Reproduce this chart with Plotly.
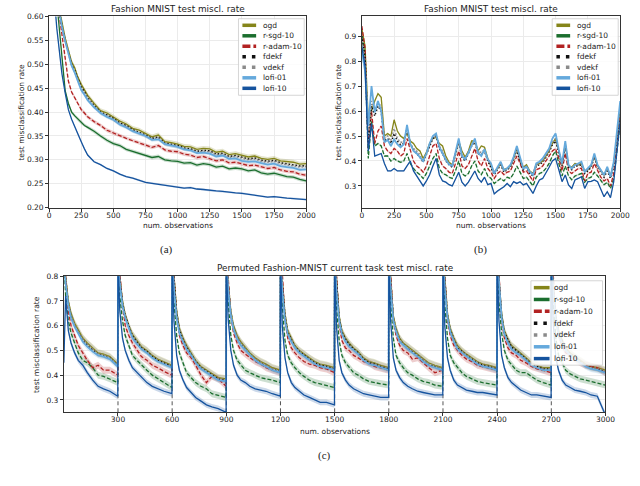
import plotly.graph_objects as go

W, H = 640, 486

names = ['ogd', 'r-sgd-10', 'r-adam-10', 'fdekf', 'vdekf', 'lofi-01', 'lofi-10']

# ---------------- (a) Fashion MNIST, steady state ----------------
a_x = [0, 20, 40, 60, 80, 100, 125, 150, 175, 200, 225, 250, 275, 300] + list(range(350, 2001, 50))
a_ogd = [0.90, 0.80, 0.72, 0.66, 0.615, 0.585, 0.555, 0.53, 0.505, 0.492, 0.472, 0.458, 0.447, 0.435,
         0.418, 0.403, 0.398, 0.390, 0.381, 0.375, 0.366, 0.362, 0.355, 0.348, 0.352, 0.338, 0.336, 0.333,
         0.328, 0.327, 0.322, 0.324, 0.323, 0.316, 0.318, 0.311, 0.313, 0.309, 0.306, 0.308, 0.303, 0.301,
         0.303, 0.298, 0.296, 0.295, 0.291, 0.292]
a_rsgd = [0.87, 0.75, 0.67, 0.63, 0.575, 0.51, 0.445, 0.418, 0.40, 0.392, 0.385, 0.378, 0.372, 0.368,
          0.36, 0.35, 0.341, 0.334, 0.33, 0.322, 0.318, 0.314, 0.31, 0.305, 0.307, 0.30, 0.298, 0.297,
          0.293, 0.294, 0.289, 0.292, 0.29, 0.285, 0.287, 0.281, 0.283, 0.281, 0.277, 0.279, 0.273, 0.27,
          0.272, 0.268, 0.265, 0.264, 0.259, 0.256]
a_radam = [0.88, 0.76, 0.69, 0.64, 0.60, 0.555, 0.505, 0.465, 0.442, 0.43, 0.418, 0.405, 0.398, 0.39,
           0.38, 0.372, 0.362, 0.356, 0.35, 0.345, 0.34, 0.336, 0.331, 0.326, 0.33, 0.321, 0.318, 0.317,
           0.312, 0.31, 0.305, 0.307, 0.303, 0.298, 0.30, 0.294, 0.295, 0.291, 0.288, 0.289, 0.285, 0.282,
           0.284, 0.279, 0.276, 0.275, 0.27, 0.268]
a_fdekf = [0.90, 0.80, 0.715, 0.655, 0.612, 0.58, 0.55, 0.525, 0.50, 0.487, 0.468, 0.453, 0.443, 0.43,
           0.414, 0.40, 0.394, 0.387, 0.377, 0.372, 0.363, 0.358, 0.352, 0.345, 0.348, 0.335, 0.333, 0.33,
           0.325, 0.323, 0.318, 0.32, 0.319, 0.312, 0.314, 0.307, 0.309, 0.305, 0.302, 0.304, 0.299, 0.297,
           0.299, 0.294, 0.292, 0.29, 0.287, 0.288]
a_vdekf = [0.90, 0.80, 0.712, 0.652, 0.61, 0.578, 0.548, 0.522, 0.498, 0.484, 0.465, 0.45, 0.44, 0.428,
           0.412, 0.398, 0.392, 0.384, 0.375, 0.37, 0.361, 0.356, 0.35, 0.343, 0.346, 0.333, 0.331, 0.328,
           0.323, 0.321, 0.316, 0.318, 0.317, 0.31, 0.312, 0.305, 0.307, 0.303, 0.30, 0.302, 0.297, 0.295,
           0.297, 0.292, 0.29, 0.288, 0.285, 0.286]
a_lofi01 = [0.89, 0.79, 0.71, 0.65, 0.61, 0.578, 0.548, 0.52, 0.497, 0.482, 0.462, 0.446, 0.436, 0.425,
            0.41, 0.398, 0.39, 0.384, 0.374, 0.368, 0.36, 0.355, 0.35, 0.342, 0.343, 0.333, 0.33, 0.327,
            0.322, 0.32, 0.314, 0.315, 0.313, 0.307, 0.309, 0.302, 0.303, 0.298, 0.296, 0.297, 0.293, 0.29,
            0.292, 0.287, 0.285, 0.283, 0.279, 0.28]
a_lofi10 = [0.85, 0.73, 0.64, 0.575, 0.52, 0.48, 0.44, 0.405, 0.385, 0.368, 0.352, 0.338, 0.323, 0.31,
            0.296, 0.29, 0.282, 0.277, 0.27, 0.265, 0.262, 0.257, 0.253, 0.251, 0.249, 0.246, 0.245, 0.243,
            0.241, 0.242, 0.239, 0.238, 0.236, 0.235, 0.234, 0.232, 0.231, 0.23, 0.228, 0.227, 0.224, 0.222,
            0.223, 0.221, 0.22, 0.219, 0.218, 0.217]
a_band = [0.005, 0.004, 0.004, 0.0, 0.004, 0.004, 0.002]
a_xticks = [0, 250, 500, 750, 1000, 1250, 1500, 1750, 2000]
a_yticks = [0.20, 0.25, 0.30, 0.35, 0.40, 0.45, 0.50, 0.55, 0.60]

# ---------------- (b) Fashion MNIST, non-stationary ----------------
b_x = list(range(0, 2001, 25))
b_ogd = [0.93, 0.86, 0.56, 0.60, 0.64, 0.67, 0.655, 0.50, 0.51, 0.50,
         0.565, 0.52, 0.50, 0.49, 0.51, 0.48, 0.47, 0.45, 0.44, 0.41,
         0.435, 0.47, 0.49, 0.495, 0.47, 0.46, 0.42, 0.395, 0.385, 0.43,
         0.48, 0.44, 0.415, 0.44, 0.48, 0.48, 0.44, 0.46, 0.455, 0.41,
         0.38, 0.355, 0.37, 0.39, 0.365, 0.37, 0.38, 0.41, 0.45, 0.405,
         0.375, 0.385, 0.36, 0.35, 0.385, 0.39, 0.40, 0.42, 0.44, 0.47,
         0.49, 0.44, 0.385, 0.47, 0.38, 0.375, 0.39, 0.385, 0.39, 0.36,
         0.365, 0.38, 0.42, 0.38, 0.36, 0.345, 0.37, 0.34, 0.39, 0.50,
         0.60]
b_rsgd = [0.90, 0.82, 0.41, 0.56, 0.46, 0.47, 0.46, 0.42, 0.42, 0.40,
          0.41, 0.40, 0.395, 0.40, 0.43, 0.39, 0.37, 0.355, 0.345, 0.33,
          0.35, 0.38, 0.41, 0.43, 0.37, 0.35, 0.345, 0.335, 0.33, 0.36,
          0.40, 0.35, 0.34, 0.35, 0.38, 0.40, 0.36, 0.345, 0.37, 0.34,
          0.33, 0.31, 0.32, 0.33, 0.32, 0.335, 0.33, 0.35, 0.38, 0.355,
          0.33, 0.335, 0.315, 0.30, 0.335, 0.35, 0.355, 0.37, 0.39, 0.42,
          0.44, 0.39, 0.34, 0.38, 0.34, 0.325, 0.34, 0.345, 0.35, 0.315,
          0.33, 0.335, 0.355, 0.34, 0.32, 0.305, 0.315, 0.29, 0.33, 0.44,
          0.55]
b_radam = [0.94, 0.85, 0.45, 0.60, 0.47, 0.52, 0.54, 0.46, 0.44, 0.43,
           0.45, 0.44, 0.42, 0.43, 0.49, 0.44, 0.40, 0.38, 0.37, 0.355,
           0.38, 0.42, 0.46, 0.47, 0.41, 0.38, 0.37, 0.355, 0.35, 0.39,
           0.44, 0.38, 0.37, 0.385, 0.42, 0.45, 0.40, 0.38, 0.41, 0.37,
           0.355, 0.33, 0.35, 0.36, 0.345, 0.355, 0.36, 0.39, 0.42, 0.39,
           0.355, 0.36, 0.34, 0.32, 0.365, 0.37, 0.38, 0.40, 0.42, 0.44,
           0.45, 0.41, 0.36, 0.43, 0.36, 0.35, 0.36, 0.37, 0.37, 0.32,
           0.35, 0.355, 0.39, 0.36, 0.335, 0.32, 0.33, 0.30, 0.35, 0.46,
           0.58]
b_fdekf = [0.90, 0.82, 0.47, 0.62, 0.58, 0.62, 0.60, 0.48, 0.49, 0.47,
           0.51, 0.48, 0.465, 0.47, 0.53, 0.465, 0.445, 0.43, 0.415, 0.395,
           0.425, 0.46, 0.49, 0.50, 0.45, 0.43, 0.40, 0.385, 0.375, 0.425,
           0.475, 0.415, 0.40, 0.43, 0.46, 0.475, 0.43, 0.425, 0.44, 0.40,
           0.375, 0.345, 0.365, 0.385, 0.355, 0.365, 0.375, 0.405, 0.445, 0.40,
           0.365, 0.375, 0.35, 0.34, 0.38, 0.385, 0.395, 0.415, 0.435, 0.465,
           0.48, 0.43, 0.38, 0.46, 0.375, 0.365, 0.38, 0.38, 0.385, 0.35,
           0.36, 0.375, 0.415, 0.375, 0.355, 0.335, 0.36, 0.33, 0.38, 0.49,
           0.59]
b_vdekf = [0.88, 0.80, 0.50, 0.64, 0.60, 0.63, 0.62, 0.49, 0.50, 0.48,
           0.53, 0.49, 0.475, 0.475, 0.53, 0.47, 0.45, 0.44, 0.425, 0.40,
           0.43, 0.465, 0.49, 0.50, 0.46, 0.44, 0.41, 0.39, 0.38, 0.43,
           0.48, 0.425, 0.41, 0.435, 0.465, 0.48, 0.435, 0.435, 0.445, 0.405,
           0.38, 0.35, 0.37, 0.39, 0.36, 0.37, 0.38, 0.41, 0.45, 0.405,
           0.37, 0.38, 0.355, 0.345, 0.385, 0.39, 0.40, 0.42, 0.44, 0.475,
           0.49, 0.44, 0.385, 0.47, 0.38, 0.37, 0.385, 0.385, 0.39, 0.355,
           0.365, 0.38, 0.42, 0.38, 0.36, 0.34, 0.37, 0.335, 0.39, 0.50,
           0.61]
b_lofi01 = [0.84, 0.76, 0.54, 0.70, 0.595, 0.64, 0.60, 0.475, 0.485, 0.46,
            0.486, 0.467, 0.455, 0.467, 0.545, 0.47, 0.44, 0.43, 0.415, 0.40,
            0.43, 0.47, 0.50, 0.51, 0.455, 0.43, 0.405, 0.387, 0.38, 0.435,
            0.49, 0.42, 0.407, 0.433, 0.46, 0.49, 0.433, 0.42, 0.447, 0.407,
            0.39, 0.35, 0.375, 0.397, 0.364, 0.37, 0.384, 0.417, 0.46, 0.412,
            0.37, 0.377, 0.357, 0.344, 0.39, 0.397, 0.41, 0.43, 0.45, 0.49,
            0.51, 0.444, 0.39, 0.48, 0.384, 0.37, 0.384, 0.39, 0.397, 0.357,
            0.37, 0.384, 0.43, 0.384, 0.364, 0.344, 0.377, 0.337, 0.397, 0.52,
            0.64]
b_lofi10 = [0.86, 0.78, 0.44, 0.55, 0.42, 0.425, 0.43, 0.39, 0.36, 0.36,
            0.37, 0.36, 0.36, 0.36, 0.38, 0.40, 0.36, 0.34, 0.32, 0.30,
            0.32, 0.345, 0.38, 0.41, 0.345, 0.32, 0.315, 0.305, 0.30, 0.33,
            0.355, 0.315, 0.30, 0.315, 0.34, 0.36, 0.33, 0.315, 0.335, 0.305,
            0.31, 0.268, 0.28, 0.288, 0.297, 0.31, 0.297, 0.317, 0.31, 0.317,
            0.304, 0.31, 0.29, 0.27, 0.30, 0.324, 0.33, 0.35, 0.375, 0.40,
            0.41, 0.365, 0.317, 0.344, 0.304, 0.29, 0.324, 0.33, 0.337, 0.29,
            0.317, 0.318, 0.324, 0.317, 0.284, 0.257, 0.277, 0.253, 0.317, 0.45,
            0.56]
b_band = [0.004, 0.004, 0.004, 0.0, 0.004, 0.006, 0.003]
b_yticks = [0.3, 0.4, 0.5, 0.6, 0.7, 0.8, 0.9]

# ---------------- (c) Permuted Fashion-MNIST, 10 tasks of 300 ----------------
c_task_len = 300
c_off = [0, 10, 25, 40, 60, 80, 105, 130, 160, 190, 220, 255, 299]
c_ogd = [
    [0.90, 0.80, 0.70, 0.65, 0.61, 0.585, 0.55, 0.53, 0.51, 0.49, 0.485, 0.475, 0.445],
    [0.90, 0.80, 0.70, 0.645, 0.60, 0.565, 0.54, 0.515, 0.50, 0.48, 0.465, 0.455, 0.44],
    [0.90, 0.79, 0.66, 0.59, 0.55, 0.52, 0.49, 0.46, 0.435, 0.42, 0.405, 0.39, 0.385],
    [0.90, 0.78, 0.66, 0.60, 0.56, 0.535, 0.51, 0.49, 0.47, 0.455, 0.445, 0.43, 0.42],
    [0.90, 0.78, 0.65, 0.58, 0.55, 0.52, 0.50, 0.485, 0.47, 0.455, 0.445, 0.44, 0.43],
    [0.90, 0.78, 0.64, 0.58, 0.55, 0.53, 0.51, 0.495, 0.47, 0.455, 0.45, 0.44, 0.43],
    [0.90, 0.78, 0.64, 0.59, 0.55, 0.53, 0.515, 0.50, 0.485, 0.465, 0.45, 0.44, 0.43],
    [0.90, 0.79, 0.65, 0.59, 0.55, 0.52, 0.50, 0.485, 0.47, 0.455, 0.445, 0.44, 0.43],
    [0.90, 0.79, 0.65, 0.58, 0.545, 0.52, 0.505, 0.49, 0.47, 0.45, 0.44, 0.43, 0.43],
    [0.90, 0.78, 0.64, 0.58, 0.54, 0.51, 0.49, 0.475, 0.46, 0.445, 0.435, 0.43, 0.42],
]
c_rsgd = [
    [0.88, 0.72, 0.62, 0.57, 0.53, 0.49, 0.46, 0.45, 0.43, 0.40, 0.395, 0.385, 0.37],
    [0.88, 0.72, 0.62, 0.56, 0.52, 0.48, 0.46, 0.44, 0.42, 0.40, 0.385, 0.37, 0.35],
    [0.88, 0.70, 0.56, 0.49, 0.45, 0.41, 0.39, 0.37, 0.355, 0.345, 0.325, 0.318, 0.31],
    [0.88, 0.70, 0.56, 0.50, 0.46, 0.44, 0.42, 0.41, 0.40, 0.39, 0.385, 0.38, 0.37],
    [0.88, 0.68, 0.54, 0.48, 0.45, 0.43, 0.41, 0.395, 0.38, 0.37, 0.365, 0.36, 0.35],
    [0.88, 0.68, 0.54, 0.48, 0.45, 0.43, 0.41, 0.40, 0.385, 0.375, 0.37, 0.365, 0.36],
    [0.88, 0.70, 0.55, 0.48, 0.45, 0.43, 0.41, 0.40, 0.385, 0.375, 0.37, 0.36, 0.355],
    [0.88, 0.69, 0.55, 0.48, 0.45, 0.43, 0.41, 0.395, 0.385, 0.375, 0.37, 0.365, 0.36],
    [0.88, 0.70, 0.57, 0.50, 0.46, 0.44, 0.42, 0.41, 0.41, 0.395, 0.38, 0.37, 0.36],
    [0.88, 0.69, 0.55, 0.48, 0.45, 0.42, 0.405, 0.395, 0.385, 0.38, 0.375, 0.37, 0.36],
]
c_radam = [
    [0.95, 0.80, 0.66, 0.60, 0.56, 0.52, 0.49, 0.46, 0.43, 0.44, 0.42, 0.42, 0.40],
    [0.95, 0.82, 0.68, 0.60, 0.56, 0.53, 0.50, 0.475, 0.46, 0.44, 0.43, 0.415, 0.40],
    [0.95, 0.80, 0.64, 0.56, 0.52, 0.49, 0.47, 0.44, 0.40, 0.37, 0.395, 0.385, 0.355],
    [0.95, 0.80, 0.64, 0.57, 0.53, 0.50, 0.485, 0.47, 0.455, 0.445, 0.43, 0.42, 0.41],
    [0.95, 0.80, 0.62, 0.55, 0.51, 0.49, 0.47, 0.455, 0.445, 0.44, 0.43, 0.425, 0.41],
    [0.95, 0.80, 0.61, 0.54, 0.51, 0.50, 0.48, 0.47, 0.455, 0.45, 0.435, 0.43, 0.42],
    [0.95, 0.80, 0.62, 0.56, 0.52, 0.50, 0.49, 0.465, 0.47, 0.45, 0.43, 0.41, 0.42],
    [0.95, 0.80, 0.62, 0.56, 0.52, 0.50, 0.48, 0.465, 0.455, 0.44, 0.435, 0.43, 0.42],
    [0.95, 0.80, 0.62, 0.55, 0.51, 0.49, 0.48, 0.46, 0.45, 0.435, 0.425, 0.42, 0.41],
    [0.95, 0.80, 0.62, 0.56, 0.52, 0.49, 0.48, 0.465, 0.45, 0.44, 0.435, 0.43, 0.41],
]
c_fdekf = [
    [0.89, 0.79, 0.69, 0.64, 0.60, 0.578, 0.543, 0.522, 0.503, 0.485, 0.478, 0.47, 0.44],
    [0.89, 0.79, 0.69, 0.64, 0.595, 0.558, 0.533, 0.51, 0.495, 0.475, 0.46, 0.45, 0.435],
    [0.89, 0.78, 0.65, 0.583, 0.543, 0.513, 0.485, 0.455, 0.43, 0.415, 0.40, 0.385, 0.38],
    [0.89, 0.77, 0.65, 0.593, 0.553, 0.528, 0.505, 0.485, 0.465, 0.45, 0.44, 0.425, 0.415],
    [0.89, 0.77, 0.64, 0.573, 0.545, 0.515, 0.495, 0.48, 0.465, 0.45, 0.44, 0.435, 0.425],
    [0.89, 0.77, 0.63, 0.573, 0.545, 0.525, 0.505, 0.49, 0.465, 0.45, 0.445, 0.435, 0.425],
    [0.89, 0.77, 0.63, 0.583, 0.545, 0.525, 0.51, 0.495, 0.48, 0.46, 0.445, 0.435, 0.425],
    [0.89, 0.78, 0.64, 0.583, 0.545, 0.513, 0.495, 0.48, 0.465, 0.45, 0.44, 0.435, 0.425],
    [0.89, 0.78, 0.64, 0.573, 0.54, 0.513, 0.50, 0.485, 0.465, 0.445, 0.435, 0.425, 0.425],
    [0.89, 0.77, 0.63, 0.573, 0.535, 0.505, 0.485, 0.47, 0.455, 0.44, 0.43, 0.425, 0.415],
]
c_vdekf = [
    [0.89, 0.79, 0.695, 0.645, 0.605, 0.58, 0.547, 0.527, 0.507, 0.487, 0.482, 0.472, 0.442],
    [0.89, 0.79, 0.695, 0.642, 0.597, 0.562, 0.537, 0.512, 0.497, 0.477, 0.462, 0.452, 0.437],
    [0.89, 0.78, 0.655, 0.587, 0.547, 0.517, 0.487, 0.457, 0.432, 0.417, 0.402, 0.387, 0.382],
    [0.89, 0.77, 0.655, 0.597, 0.557, 0.532, 0.507, 0.487, 0.467, 0.452, 0.442, 0.427, 0.417],
    [0.89, 0.77, 0.645, 0.577, 0.547, 0.517, 0.497, 0.482, 0.467, 0.452, 0.442, 0.437, 0.427],
    [0.89, 0.77, 0.635, 0.577, 0.547, 0.527, 0.507, 0.492, 0.467, 0.452, 0.447, 0.437, 0.427],
    [0.89, 0.77, 0.635, 0.587, 0.547, 0.527, 0.512, 0.497, 0.482, 0.462, 0.447, 0.437, 0.427],
    [0.89, 0.78, 0.645, 0.587, 0.547, 0.517, 0.497, 0.482, 0.467, 0.452, 0.442, 0.437, 0.427],
    [0.89, 0.78, 0.645, 0.577, 0.542, 0.517, 0.502, 0.487, 0.467, 0.447, 0.437, 0.427, 0.427],
    [0.89, 0.77, 0.635, 0.577, 0.537, 0.507, 0.487, 0.472, 0.457, 0.442, 0.432, 0.427, 0.417],
]
c_lofi01 = [
    [0.88, 0.77, 0.68, 0.63, 0.595, 0.57, 0.535, 0.515, 0.495, 0.48, 0.475, 0.465, 0.435],
    [0.88, 0.77, 0.68, 0.63, 0.59, 0.55, 0.525, 0.505, 0.49, 0.47, 0.455, 0.445, 0.43],
    [0.88, 0.75, 0.63, 0.57, 0.535, 0.505, 0.48, 0.45, 0.425, 0.41, 0.395, 0.38, 0.375],
    [0.88, 0.75, 0.64, 0.585, 0.545, 0.52, 0.50, 0.48, 0.46, 0.445, 0.435, 0.42, 0.41],
    [0.88, 0.74, 0.62, 0.565, 0.535, 0.51, 0.49, 0.475, 0.46, 0.445, 0.435, 0.43, 0.42],
    [0.88, 0.74, 0.62, 0.565, 0.535, 0.515, 0.50, 0.485, 0.46, 0.445, 0.44, 0.43, 0.42],
    [0.88, 0.75, 0.62, 0.575, 0.535, 0.52, 0.505, 0.49, 0.475, 0.455, 0.44, 0.43, 0.42],
    [0.88, 0.75, 0.63, 0.575, 0.535, 0.505, 0.49, 0.475, 0.46, 0.445, 0.435, 0.43, 0.42],
    [0.88, 0.76, 0.63, 0.565, 0.53, 0.505, 0.49, 0.48, 0.46, 0.44, 0.43, 0.42, 0.42],
    [0.88, 0.75, 0.62, 0.565, 0.525, 0.50, 0.48, 0.465, 0.45, 0.435, 0.425, 0.42, 0.41],
]
c_lofi10 = [
    [0.45, 0.72, 0.58, 0.53, 0.49, 0.46, 0.44, 0.41, 0.38, 0.355, 0.345, 0.335, 0.315],
    [0.86, 0.66, 0.55, 0.50, 0.46, 0.43, 0.41, 0.39, 0.37, 0.355, 0.345, 0.335, 0.325],
    [0.86, 0.62, 0.48, 0.42, 0.38, 0.35, 0.33, 0.31, 0.295, 0.28, 0.272, 0.265, 0.25],
    [0.86, 0.63, 0.50, 0.44, 0.40, 0.38, 0.37, 0.355, 0.345, 0.34, 0.335, 0.325, 0.315],
    [0.86, 0.60, 0.47, 0.41, 0.37, 0.35, 0.335, 0.32, 0.31, 0.30, 0.29, 0.29, 0.28],
    [0.86, 0.60, 0.46, 0.41, 0.38, 0.36, 0.345, 0.335, 0.325, 0.32, 0.315, 0.31, 0.31],
    [0.86, 0.62, 0.47, 0.42, 0.39, 0.37, 0.355, 0.345, 0.335, 0.33, 0.325, 0.32, 0.32],
    [0.86, 0.60, 0.47, 0.42, 0.38, 0.36, 0.35, 0.34, 0.335, 0.33, 0.33, 0.325, 0.32],
    [0.86, 0.62, 0.48, 0.43, 0.39, 0.37, 0.355, 0.34, 0.33, 0.32, 0.32, 0.315, 0.31],
    [0.86, 0.62, 0.47, 0.42, 0.38, 0.36, 0.35, 0.34, 0.335, 0.33, 0.32, 0.315, 0.24],
]
c_band = [0.015, 0.014, 0.014, 0.0, 0.015, 0.012, 0.012]
c_xticks = [300, 600, 900, 1200, 1500, 1800, 2100, 2400, 2700, 3000]
c_yticks = [0.3, 0.4, 0.5, 0.6, 0.7, 0.8]

# ---------------- styles ----------------
colors = {'ogd': '#85851a', 'r-sgd-10': '#1b6e2e', 'r-adam-10': '#b22222', 'fdekf': '#111111',
          'vdekf': '#8a8a8a', 'lofi-01': '#65a9dc', 'lofi-10': '#15539e'}
line_dash = {'ogd': 'solid', 'r-sgd-10': 'solid', 'r-adam-10': '4px,2px', 'fdekf': '1.5px,2px',
             'vdekf': '1.5px,2px', 'lofi-01': 'solid', 'lofi-10': 'solid'}
line_w = {'ogd': 1.3, 'r-sgd-10': 1.3, 'r-adam-10': 1.3, 'fdekf': 1.5, 'vdekf': 1.5,
          'lofi-01': 1.8, 'lofi-10': 1.3}
leg_dash = {'ogd': 'solid', 'r-sgd-10': 'solid', 'r-adam-10': '8px,3px', 'fdekf': '3.5px,6px',
            'vdekf': '3.5px,6px', 'lofi-01': 'solid', 'lofi-10': 'solid'}
FONT = 'DejaVu Sans'


def X(p):
    return p / W


def Y(p):
    return 1 - p / H


def rgba(hexc, a):
    h = hexc.lstrip('#')
    return 'rgba(%d,%d,%d,%g)' % (int(h[0:2], 16), int(h[2:4], 16), int(h[4:6], 16), a)


def flat(rows):
    return [v for r in rows for v in r]


def add_panel(fig, xs, series, bands, ax, sgd_dash='solid'):
    for name, ys, hw in zip(names, series, bands):
        if hw <= 0:
            continue
        up = [v + hw for v in ys]
        lo = [v - hw for v in ys]
        fig.add_trace(go.Scatter(x=xs + xs[::-1], y=up + lo[::-1], fill='toself',
                                 fillcolor=rgba(colors[name], 0.22), line_width=0,
                                 hoverinfo='skip', showlegend=False,
                                 xaxis='x' + ax, yaxis='y' + ax))
    for name, ys in zip(names, series):
        dash = sgd_dash if name == 'r-sgd-10' else line_dash[name]
        fig.add_trace(go.Scatter(x=xs, y=ys, mode='lines', name=name, showlegend=False,
                                 line=dict(color=colors[name], width=line_w[name], dash=dash),
                                 xaxis='x' + ax, yaxis='y' + ax))


def draw_legend(fig, box, hx, tx, row0, step):
    fig.add_shape(type='rect', xref='paper', yref='paper',
                  x0=X(box[0]), x1=X(box[1]), y0=Y(box[3]), y1=Y(box[2]),
                  fillcolor='rgba(255,255,255,0.85)', line=dict(color='#cccccc', width=0.8))
    for i, name in enumerate(names):
        yy = Y(row0 + i * step)
        fig.add_shape(type='line', xref='paper', yref='paper', x0=X(hx[0]), x1=X(hx[1]),
                      y0=yy, y1=yy,
                      line=dict(color=colors[name], width=3.5, dash=leg_dash[name]))
        fig.add_annotation(x=X(tx), y=yy, xref='paper', yref='paper', text=name,
                           showarrow=False, xanchor='left', yanchor='middle',
                           font=dict(size=7.5, color='#222'))


def text(fig, s, x, y, size, angle=0, family=FONT):
    fig.add_annotation(x=X(x), y=Y(y), xref='paper', yref='paper', text=s, showarrow=False,
                       xanchor='center', yanchor='middle', textangle=angle,
                       font=dict(size=size, family=family, color='#222'))


fig = go.Figure()
add_panel(fig, a_x, [a_ogd, a_rsgd, a_radam, a_fdekf, a_vdekf, a_lofi01, a_lofi10], a_band, '')
add_panel(fig, b_x, [b_ogd, b_rsgd, b_radam, b_fdekf, b_vdekf, b_lofi01, b_lofi10], b_band, '2',
          sgd_dash='4px,2px')
c_x = [c_task_len * k + o for k in range(len(c_ogd)) for o in c_off]
add_panel(fig, c_x, [flat(c_ogd), flat(c_rsgd), flat(c_radam), flat(c_fdekf), flat(c_vdekf),
                     flat(c_lofi01), flat(c_lofi10)], c_band, '3', sgd_dash='4px,2px')

# task boundaries in (c)
for xb in c_xticks[:-1]:
    fig.add_shape(type='line', xref='x3', yref='paper', x0=xb, x1=xb,
                  y0=Y(416), y1=Y(277.3),
                  layer='below', line=dict(color='#555555', width=1, dash='4px,3px'))

axis_common = dict(showline=True, mirror=True, linecolor='#333', linewidth=0.9, ticks='outside',
                   ticklen=3, tickcolor='#333', zeroline=False, gridcolor='#ebebeb', gridwidth=0.8,
                   tickfont=dict(size=7.5, color='#222'))
y_top = [Y(207.5), Y(12.7)]
fig.update_layout(
    width=W, height=H, margin=dict(l=0, r=0, t=0, b=0),
    paper_bgcolor='white', plot_bgcolor='white', showlegend=False,
    font=dict(family=FONT, color='#222'),
    xaxis=dict(domain=[X(48), X(310)], range=[0, 2000], tickvals=a_xticks, anchor='y',
               ticklabelstandoff=-3, **axis_common),
    yaxis=dict(domain=y_top, range=[0.2, 0.6], tickvals=a_yticks, tickformat='.2f', anchor='x',
               **axis_common),
    xaxis2=dict(domain=[X(366.7), X(630)], range=[0, 2000], tickvals=a_xticks, anchor='y2',
                ticklabelstandoff=-3, **axis_common),
    yaxis2=dict(domain=y_top, range=[0.213, 0.979], tickvals=b_yticks, tickformat='.1f', anchor='x2',
                **axis_common),
    xaxis3=dict(domain=[X(63), X(615)], range=[0, 3000], tickvals=c_xticks, anchor='y3',
                showgrid=False, ticklabelstandoff=-3, **axis_common),
    yaxis3=dict(domain=[Y(416), Y(277.3)], range=[0.25, 0.8], tickvals=c_yticks,
                tickformat='.1f', anchor='x3', **axis_common),
)

# titles and labels
text(fig, 'Fashion MNIST test miscl. rate', 179, 5, 8.9)
text(fig, 'Fashion MNIST test miscl. rate', 498, 5, 8.9)
text(fig, 'Permuted Fashion-MNIST current task test miscl. rate', 339, 269, 8.9)
text(fig, 'num. observations', 179, 226, 7.5)
text(fig, 'num. observations', 498, 226, 7.5)
text(fig, 'num. observations', 339, 436, 7.5)
text(fig, 'test misclassification rate', 20, 110, 7.5, angle=-90)
text(fig, 'test misclassification rate', 343, 110, 7.5, angle=-90)
text(fig, 'test misclassification rate', 35, 347, 7.5, angle=-90)
text(fig, '(a)', 168, 250, 11, family='Liberation Serif')
text(fig, '(b)', 488, 250, 11, family='Liberation Serif')
text(fig, '(c)', 329, 460, 11, family='Liberation Serif')

draw_legend(fig, (241, 308, 15, 93), (245, 259), 264, 21.7, 10.7)
draw_legend(fig, (560.7, 628, 15, 93), (565, 579), 584, 21.7, 10.7)
draw_legend(fig, (539, 612, 282, 368), (542, 558), 560, 289, 12.05)

# the page's default 8px body margin would push the figure off the window
fig.write_html("out.html", config={'displayModeBar': False},
               post_script="document.body.style.margin = '0';")
